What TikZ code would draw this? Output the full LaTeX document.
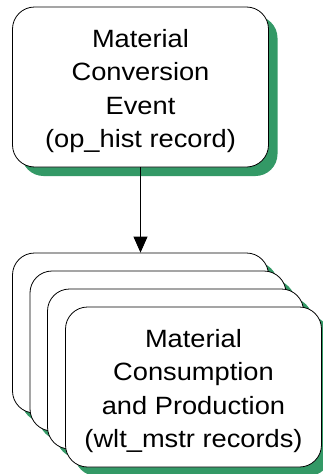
\documentclass[tikz,border=0pt]{standalone}
\usepackage{fontspec}
\setmainfont{Liberation Sans}
\newfontfamily\cardfont{Liberation Sans}[FakeStretch=1.09]
\usetikzlibrary{arrows.meta,shadows}
\definecolor{shadowgreen}{RGB}{51,153,102}
\tikzset{
  card/.style={draw=black, line width=0.8pt, fill=white, rectangle,
    rounded corners=22pt, minimum width=256pt, minimum height=160pt,
    inner sep=0pt,
    drop shadow={shadow xshift=9pt, shadow yshift=-9pt,
      fill=shadowgreen, opacity=1}},
  cardtext/.style={align=center, inner sep=0pt,
    font=\cardfont\fontsize{25}{33.4}\selectfont},
  flow/.style={draw=black, line width=0.8pt,
    -{Triangle[length=16pt,width=14pt]}}
}
\begin{document}
\begin{tikzpicture}[x=1pt,y=-1pt]
  \useasboundingbox (0,0) rectangle (323,474);
  % conversion event
  \node[card] (event) at (140.5,87) {};
  \node[cardtext] (eventtext) at ([yshift=-4pt]event.center)
    {Material\\Conversion\\Event\\(op\_hist record)};
  % stacked record cards, back to front
  \node[card] (rec1) at (140.5,333) {};
  \node[card] (rec2) at (158,351) {};
  \node[card] (rec3) at (175.5,369) {};
  \node[card] (rec4) at (193.5,387) {};
  \node[cardtext] (rectext) at ([yshift=-4pt]rec4.center)
    {Material\\Consumption\\and Production\\(wlt\_mstr records)};
  \draw[flow] (event.south) -- (rec1.north);
\end{tikzpicture}
\end{document}
